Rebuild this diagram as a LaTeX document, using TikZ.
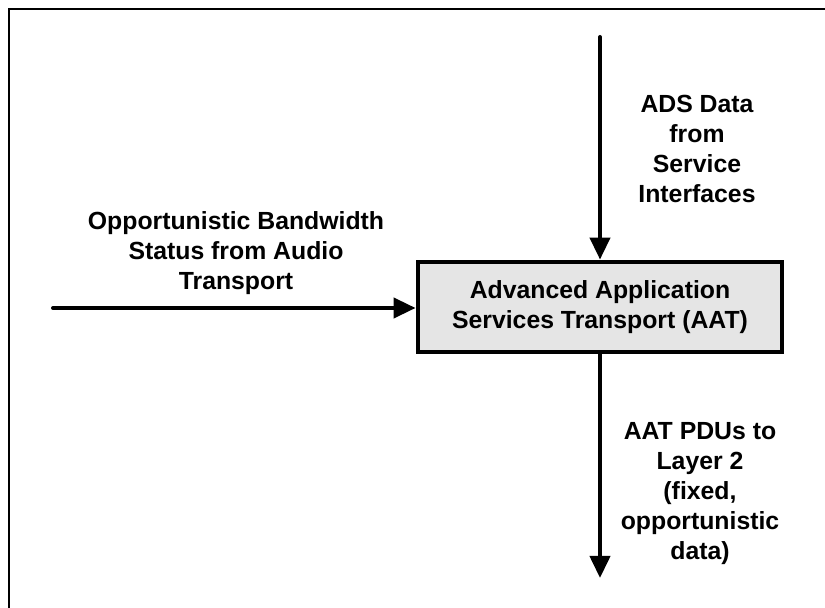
\documentclass[tikz,border=0pt]{standalone}
\usepackage{fontspec}
\setmainfont{Liberation Sans}
\usetikzlibrary{arrows.meta}
\tikzset{
  flow/.style={line width=2pt,line cap=round,-{Triangle[length=11pt,width=10pt]}},
  lbl/.style={align=center,font=\bfseries\fontsize{12.4}{15}\selectfont},
}
\begin{document}
\begin{tikzpicture}[x=0.5pt,y=-0.5pt]
                \useasboundingbox (0,0) rectangle (825,608);
                \clip (0,0) rectangle (825,608);
                \draw[line width=1pt] (9,9) rectangle (860,640);
                \node[draw,line width=2.4pt,fill=black!10,lbl,minimum width=182pt,minimum height=45pt] (AAT) at (600,307) {Advanced Application\\Services Transport (AAT)};
                \coordinate (in) at (53,308);
                \coordinate (ads) at (600,37);
                \coordinate (out) at (600,578);
                \draw[flow] (in) -- (in -| AAT.west);
                \draw[flow] (ads) -- (AAT.north);
                \draw[flow] (AAT.south) -- (out);
                \node[lbl] (obw) at (236,253) {Opportunistic Bandwidth\\Status from Audio\\Transport};
                \node[lbl] (adsl) at (697,149) {ADS Data\\from\\Service\\Interfaces};
                \node[lbl] (pdu) at (700,494) {AAT PDUs to\\Layer 2\\(fixed,\\opportunistic\\data)};
            \end{tikzpicture}
\end{document}
